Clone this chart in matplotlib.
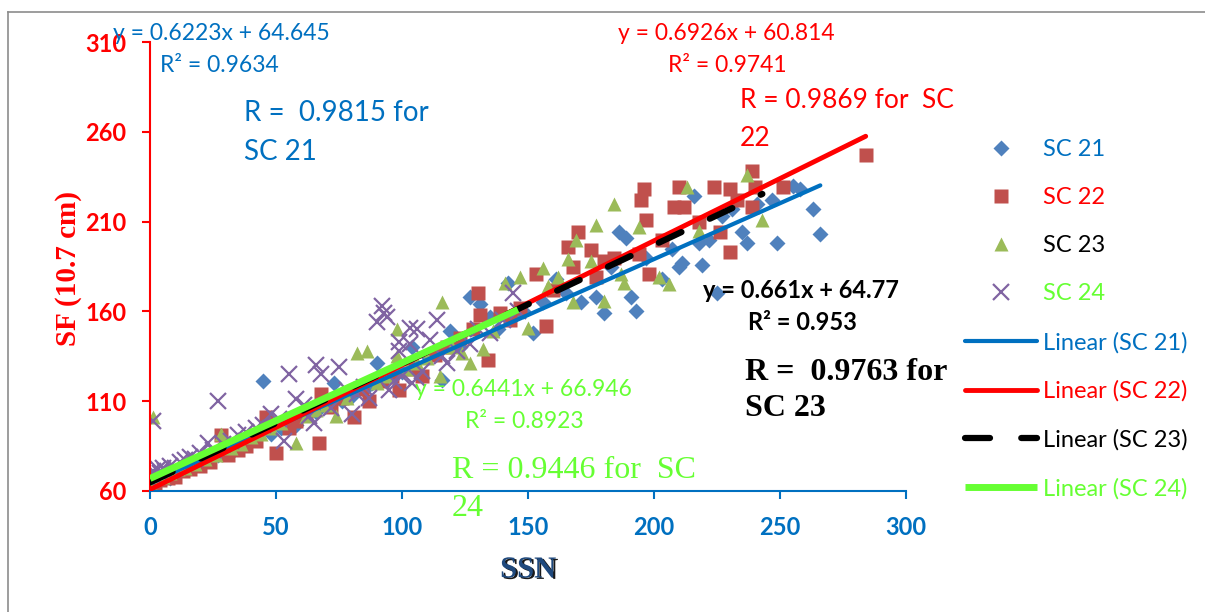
import matplotlib
matplotlib.use("Agg")
import matplotlib.pyplot as plt
import matplotlib.patheffects as pe
from matplotlib.lines import Line2D

# SSN / SF(10.7 cm) pairs per solar cycle
sc21_ssn = [0, 1, 3, 5, 8, 10, 12, 15, 18, 20, 24, 27, 30, 33, 36, 40, 45, 48, 52, 55,
            58, 62, 66, 70, 73, 76, 80, 85, 88, 90, 92, 96, 100, 104, 104, 110, 116, 119,
            123, 127, 131, 135, 138, 142, 145, 148, 152, 156, 161, 165, 171, 177, 180,
            183, 186, 189, 191, 193, 197, 203, 207, 210, 211, 216, 218, 219, 222, 225,
            227, 231, 235, 237, 241, 247, 249, 255, 258, 263, 266]
sc21_sf = [64, 66, 65, 68, 67, 70, 71, 73, 74, 77, 79, 80, 83, 82, 87, 88, 121, 92, 95, 99,
           97, 103, 104, 108, 120, 110, 113, 116, 120, 131, 122, 124, 126, 131, 140, 135,
           122, 149, 140, 168, 164, 157, 150, 176, 158, 160, 148, 165, 178, 170, 165, 168,
           159, 185, 204, 201, 168, 160, 190, 178, 195, 185, 187, 224, 198, 186, 200, 170,
           213, 217, 204, 198, 220, 222, 198, 230, 228, 217, 203]

sc22_ssn = [0, 2, 4, 7, 10, 13, 16, 20, 24, 28, 31, 35, 38, 42, 46, 50, 55, 58, 62, 67,
            68, 72, 76, 81, 84, 87, 92, 96, 99, 104, 108, 113, 118, 123, 128, 130, 131,
            134, 139, 143, 147, 153, 157, 160, 166, 168, 170, 175, 177, 180, 184, 194,
            195, 196, 197, 198, 203, 208, 210, 212, 218, 224, 226, 230, 230, 233, 239,
            239, 240, 251, 284]
sc22_sf = [62, 64, 66, 67, 68, 71, 72, 74, 76, 91, 80, 83, 85, 88, 101, 81, 95, 99, 103, 87,
           114, 107, 112, 101, 117, 110, 121, 124, 116, 128, 124, 136, 140, 145, 150, 170,
           158, 133, 159, 155, 162, 181, 152, 172, 196, 185, 204, 194, 179, 188, 190, 192,
           222, 228, 211, 181, 200, 218, 229, 218, 210, 229, 204, 228, 193, 222, 238, 218,
           229, 229, 247]

sc23_ssn = [0, 1, 2, 5, 8, 11, 14, 18, 22, 26, 28, 32, 36, 40, 44, 48, 52, 58, 62, 66, 70,
            74, 78, 82, 86, 90, 94, 98, 98, 102, 106, 110, 115, 116, 120, 124, 127, 132,
            136, 141, 147, 150, 156, 158, 162, 166, 168, 169, 175, 177, 180, 184, 187,
            188, 194, 202, 206, 213, 218, 237, 243]
sc23_sf = [65, 101, 67, 68, 70, 72, 73, 75, 78, 80, 92, 84, 86, 90, 92, 95, 98, 87, 102,
           105, 108, 102, 112, 137, 138, 120, 124, 135, 150, 128, 131, 134, 124, 165, 140,
           137, 131, 139, 149, 176, 179, 151, 184, 174, 179, 189, 165, 200, 188, 208, 166,
           220, 181, 176, 207, 179, 175, 229, 205, 236, 211]

sc24_ssn = [0, 0, 1, 1, 2, 3, 4, 5, 6, 8, 10, 12, 14, 16, 18, 20, 23, 25, 27, 29, 32, 35,
            38, 42, 45, 48, 51, 53, 55, 58, 61, 63, 65, 66, 68, 72, 75, 78, 80, 82, 85, 87,
            90, 92, 93, 94, 95, 97, 99, 99, 100, 103, 103, 104, 106, 106, 108, 111, 114,
            116, 118, 122, 127, 130, 135, 140, 144, 146]
sc24_sf = [66, 69, 99, 71, 68, 72, 70, 73, 71, 74, 73, 76, 77, 79, 78, 81, 87, 83, 110, 86,
           88, 91, 93, 95, 97, 103, 100, 88, 125, 111, 108, 102, 98, 130, 125, 106, 129,
           116, 103, 114, 118, 112, 154, 163, 159, 157, 116, 121, 143, 138, 124, 151, 142,
           120, 150, 123, 127, 144, 155, 135, 131, 138, 142, 150, 148, 155, 170, 160]

cycle_names = ["SC 21", "SC 22", "SC 23", "SC 24"]
slopes = [0.6223, 0.6926, 0.661, 0.6441]
intercepts = [64.645, 60.814, 64.77, 66.946]
r2_values = [0.9634, 0.9741, 0.953, 0.8923]
r_values = [0.9815, 0.9869, 0.9763, 0.9446]

W, H = 1205, 612


def fxy(px, py):
    # pixel position -> figure fraction
    return px / W, 1 - py / H


plt.rcParams["font.family"] = ["Lato", "DejaVu Sans"]

fig = plt.figure(figsize=(W / 100, H / 100), dpi=100)
ax = fig.add_axes([150 / W, 1 - 491 / H, 756 / W, 449 / H])

# outer chart frame
fig.add_artist(Line2D([8 / W, 1.0], [1 - 12 / H] * 2, color="#8c8c8c", lw=1.2))
fig.add_artist(Line2D([8 / W] * 2, [0.0, 1 - 12 / H], color="#8c8c8c", lw=1.2))

series = [(sc21_ssn, sc21_sf), (sc22_ssn, sc22_sf), (sc23_ssn, sc23_sf), (sc24_ssn, sc24_sf)]
marker_styles = [
    dict(marker="D", color="#4F81BD", markersize=8, mec="none"),
    dict(marker="s", color="#C0504D", markersize=10.5, mec="none"),
    dict(marker="^", color="#9BBB59", markersize=10.5, mec="none"),
    dict(marker="x", color="#8064A2", markersize=12, mew=1.6),
]
line_styles = [
    dict(color="#0070C0", lw=3.0, solid_capstyle="round"),
    dict(color="#FF0000", lw=3.5, solid_capstyle="round"),
    dict(color="black", lw=4.5, linestyle=(0, (4, 5)), dash_capstyle="round"),
    dict(color="#66FF33", lw=5.0, solid_capstyle="butt"),
]
text_colors = ["#0070C0", "#FF0000", "black", "#66FF33"]

point_handles = []
for (xs, ys), name, st in zip(series, cycle_names, marker_styles):
    h, = ax.plot(xs, ys, linestyle="none", label=name, zorder=2, **st)
    point_handles.append(h)

line_handles = []
for (xs, ys), name, m, b, st in zip(series, cycle_names, slopes, intercepts, line_styles):
    x0, x1 = min(xs), max(xs)
    h, = ax.plot([x0, x1], [m * x0 + b, m * x1 + b], label=f"Linear ({name})", zorder=3, **st)
    line_handles.append(h)

ax.set_xlim(0, 300)
ax.set_ylim(60, 310)
ax.set_xticks(range(0, 301, 50))
ax.set_yticks(range(60, 311, 50))
for side in ["top", "right"]:
    ax.spines[side].set_visible(False)
ax.spines["left"].set_color("#FF0000")
ax.spines["left"].set_linewidth(1.5)
ax.spines["bottom"].set_color("#0070C0")
ax.spines["bottom"].set_linewidth(1.5)
ax.tick_params(axis="x", colors="#0070C0", length=6, width=1.5, pad=12,
               labelsize=17)
ax.tick_params(axis="y", colors="#FF0000", length=6, width=1.5, pad=11,
               labelsize=17)
for lab in ax.get_xticklabels() + ax.get_yticklabels():
    lab.set_fontweight("bold")

fig.text(*fxy(68, 268), "SF (10.7 cm)", rotation=90, ha="center", va="center",
         family="Liberation Serif", fontweight="bold", fontsize=21, color="#FF0000")
fig.text(*fxy(528, 570), "SSN", ha="center", va="center",
         family="Liberation Serif", fontweight="bold", fontsize=22, color="#1F497D",
         path_effects=[pe.withSimplePatchShadow(offset=(1.5, -1), shadow_rgbFace="black",
                                                 alpha=0.9)])

# regression equations and correlation notes
eq_pos = [(113, 34), (618, 34), (703, 290), (415, 390)]
r2_pos = [(160, 66), (668, 66), (748, 322), (465, 422)]
for i in range(4):
    bold = "bold" if i == 2 else "normal"
    size = 17 if i == 2 else 16.5
    fig.text(*fxy(*eq_pos[i]), f"y = {slopes[i]}x + {intercepts[i]}", ha="left", va="center",
             fontsize=size, color=text_colors[i], fontweight=bold)
    fig.text(*fxy(*r2_pos[i]), f"R² = {r2_values[i]}", ha="left", va="center",
             fontsize=size, color=text_colors[i], fontweight=bold)

fig.text(*fxy(244, 113), f"R =  {r_values[0]} for", ha="left", va="center",
         fontsize=20, color=text_colors[0])
fig.text(*fxy(244, 152), "SC 21", ha="left", va="center", fontsize=20, color=text_colors[0])
fig.text(*fxy(740, 100), f"R = {r_values[1]} for  SC", ha="left", va="center",
         fontsize=19, color=text_colors[1])
fig.text(*fxy(740, 138), "22", ha="left", va="center", fontsize=19, color=text_colors[1])
fig.text(*fxy(745, 372), f"R =  {r_values[2]} for", ha="left", va="center",
         family="Liberation Serif", fontweight="bold", fontsize=23, color="black")
fig.text(*fxy(745, 408), "SC 23", ha="left", va="center",
         family="Liberation Serif", fontweight="bold", fontsize=23, color="black")
fig.text(*fxy(452, 470), f"R = {r_values[3]} for  SC", ha="left", va="center",
         family="Liberation Serif", fontsize=23, color=text_colors[3])
fig.text(*fxy(452, 508), "24", ha="left", va="center",
         family="Liberation Serif", fontsize=23, color=text_colors[3])

leg = ax.legend(handles=point_handles + line_handles, loc="upper left",
                bbox_to_anchor=fxy(965, 139), bbox_transform=fig.transFigure,
                frameon=False, borderpad=0, borderaxespad=0, fontsize=17,
                handlelength=3.05, handletextpad=0.25, labelspacing=1.15, numpoints=1)
for txt, col in zip(leg.get_texts(), text_colors + text_colors):
    txt.set_color(col)

fig.savefig("out.png", dpi=100)
